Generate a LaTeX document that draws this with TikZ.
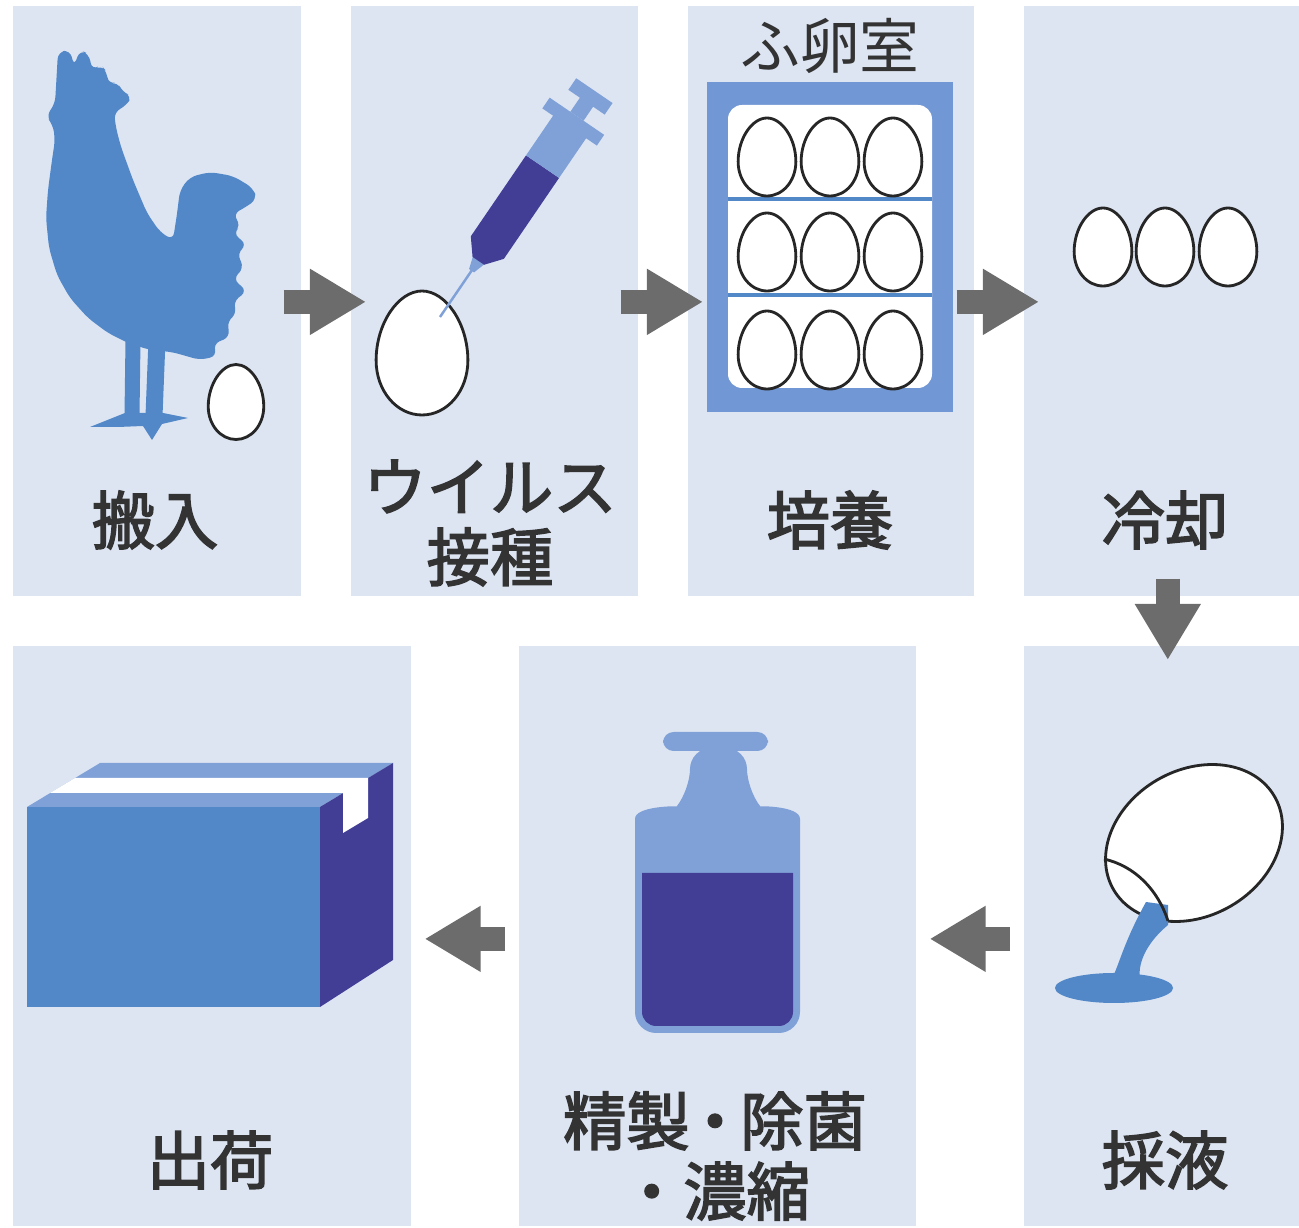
\documentclass[tikz,border=0pt]{standalone}
\usepackage{fontspec}
\newfontfamily\jp{Noto Sans CJK JP}[BoldFont=*,BoldFeatures={FakeBold=2.5}]
\newfontfamily\jplight{Noto Sans CJK JP}
\usepackage{tikz}
\usetikzlibrary{arrows.meta,positioning,calc}

\definecolor{panelbg}{RGB}{221,229,243}
\definecolor{midblue}{RGB}{82,136,200}
\definecolor{paleblue}{RGB}{128,161,215}
\definecolor{frameblue}{RGB}{113,151,213}
\definecolor{navy}{RGB}{66,62,150}
\definecolor{arrowgray}{RGB}{108,108,108}
\definecolor{labgray}{RGB}{51,51,51}

\tikzset{
  panel/.style={rectangle,fill=panelbg,inner sep=0pt,anchor=north west},
  lab/.style={text=labgray,font=\jp\bfseries\fontsize{18}{20}\selectfont,align=center,inner sep=0pt},
  flow/.style={draw=arrowgray,line width=0.24cm,-{Triangle[length=0.56cm,width=0.62cm]}},
  eggline/.style={draw=black!85,line width=0.8pt,fill=white},
  egg/.pic={\path[eggline,scale=#1] (0,-1) .. controls (0.38,-1) and (0.74,-0.48) .. (0.74,0.12)
      .. controls (0.74,0.61) and (0.41,1) .. (0,1)
      .. controls (-0.41,1) and (-0.74,0.61) .. (-0.74,0.12)
      .. controls (-0.74,-0.48) and (-0.38,-1) .. (0,-1) -- cycle;}
}

\begin{document}
\begin{tikzpicture}[x=0.01cm,y=-0.01cm]
  \useasboundingbox (0,0) rectangle (1299,1228);
  \foreach \n/\x/\y/\w/\h in {p1/12/5/2.88/5.9, p2/350/5/2.87/5.9, p3/687/5/2.86/5.9,
      p4/1023/5/2.76/5.9, p5/12/645/3.98/5.8, p6/518/645/3.97/5.8, p7/1023/645/2.76/5.8}
    \node[panel,minimum width=\w cm,minimum height=\h cm] (\n) at (\x,\y) {};

  % rooster and egg
  \fill[midblue,rounded corners=2pt] (46,116) -- (55,104) -- (58,52) -- (70,50) -- (74,66)
    -- (80,50) -- (89,54) -- (92,70) -- (101,65) -- (107,72) -- (108,84) -- (118,82)
    -- (122,92) -- (132,96) -- (126,106) -- (114,112) -- (116,128) -- (121,147) -- (133,180)
    -- (147,213) -- (160,232) -- (173,240) -- (177,214) -- (180,190) -- (190,177) -- (210,172)
    -- (233,176) -- (253,188) -- (257,199) -- (246,207) -- (233,214) -- (241,226) -- (233,233)
    -- (247,245) -- (237,253) -- (244,268) -- (233,279) -- (247,291) -- (233,302) -- (237,314)
    -- (227,321) -- (230,337) -- (213,344) -- (217,356) -- (200,360) -- (172,352) -- (150,350)
    -- (128,343) -- (108,333) -- (88,318) -- (70,298) -- (57,275) -- (49,248) -- (46,218)
    -- (48,190) -- (52,160) -- (55,140) -- (53,125) -- cycle;
  \draw[midblue,line width=0.15cm] (133,340) -- (132,416);
  \draw[midblue,line width=0.17cm] (157,340) -- (154,416);
  \fill[midblue] (90,427) -- (125,413) -- (163,413) -- (188,418) -- (162,424) -- (152,440)
    -- (143,426) -- (118,427) -- cycle;
  \pic at (236,402) {egg=37.5};

  % syringe into the egg
  \pic at (422,353) {egg=62};
  \begin{scope}[shift={(440,317)},rotate=55.7]
    \draw[paleblue,line width=0.7pt] (0,0) -- (62,0);
    \fill[paleblue] (56,-3) -- (72,-8) -- (72,8) -- (56,3) -- cycle;
    \fill[navy] (68,-7) -- (84,-20) -- (182,-20) -- (182,20) -- (84,20) -- (68,7) -- cycle;
    \fill[paleblue] (182,-20) rectangle (236,20);
    \fill[paleblue] (230,-33) rectangle (243,33);
    \fill[paleblue] (243,-8) rectangle (262,8);
    \fill[paleblue] (260,-22) rectangle (274,22);
  \end{scope}

  % incubator
  \node[text=labgray,font=\jplight\fontsize{17}{20}\selectfont,inner sep=0pt] (room) at (830,46) {ふ卵室};
  \fill[frameblue] (707,82) rectangle (953,412);
  \fill[white,rounded corners=4pt] (728,105) rectangle (932,388);
  \foreach \r in {199,295}
    \draw[midblue,line width=1.2pt] (728,\r) -- (932,\r);
  \foreach \c in {767,830,893}
    \foreach \r in {157,252,350}
      \pic at (\c,\r) {egg=39};

  % cooled eggs
  \foreach \c in {1103,1165,1228}
    \pic at (\c,247) {egg=39};

  % pouring egg
  \draw[eggline] (1194,843) ellipse [x radius=93,y radius=73,rotate=30];
  \fill[midblue] (1146,902) -- (1168,905) -- (1168,925) .. controls (1150,940) and (1137,960)
    .. (1140,980) -- (1110,982) .. controls (1118,970) and (1122,945) .. (1146,902) -- cycle;
  \fill[midblue] (1114,988) ellipse [x radius=59,y radius=15];
  \draw[black!85,line width=0.8pt] (1104,859) .. controls (1135,866) and (1158,890) .. (1168,921);

  % bottle
  \fill[paleblue,rounded corners=6pt] (690,748) -- (747,748) -- (747,790)
    .. controls (760,806) and (800,806) .. (800,840) -- (800,1033) -- (635,1033) -- (635,840)
    .. controls (635,806) and (677,806) .. (690,790) -- cycle;
  \fill[paleblue,rounded corners=3pt] (663,732) rectangle (768,751);
  \fill[navy] (642,873) -- (793,873) [rounded corners=4pt] -- (793,1026) -- (642,1026)
    [sharp corners] -- cycle;

  % box
  \fill[midblue] (27,807) rectangle (320,1007);
  \fill[paleblue] (27,807) -- (100,763) -- (393,763) -- (320,807) -- cycle;
  \fill[navy] (320,807) -- (393,763) -- (393,960) -- (320,1007) -- cycle;
  \fill[white] (50,793) -- (75,778) -- (368,778) -- (368,818) -- (343,833) -- (343,793) -- cycle;

  % labels
  \node[lab] (t1) at (155,520) {搬入};
  \node[lab] (t2) at (490,523) {ウイルス\\接種};
  \node[lab] (t3) at (830,520) {培養};
  \node[lab] (t4) at (1165,520) {冷却};
  \node[lab] (t5) at (210,1160) {出荷};
  \node[lab] (t6) at (715,1156) {精製\kern-0.1em・\kern-0.1em除菌\\・濃縮};
  \node[lab] (t7) at (1165,1160) {採液};

  % flow between the steps
  \draw[flow] ($(p1.east)+(-18,1)$) -- ($(p2.west)+(16,1)$);
  \draw[flow] ($(p2.east)+(-18,1)$) -- ($(p3.west)+(16,1)$);
  \draw[flow] ($(p3.east)+(-18,1)$) -- ($(p4.west)+(16,1)$);
  \draw[flow] ($(p4.south)+(6,-18)$) -- ($(p7.north)+(6,15)$);
  \draw[flow] ($(p7.west)+(-13,3)$) -- ($(p6.east)+(13,3)$);
  \draw[flow] ($(p6.west)+(-13,3)$) -- ($(p5.east)+(13,3)$);
\end{tikzpicture}
\end{document}
